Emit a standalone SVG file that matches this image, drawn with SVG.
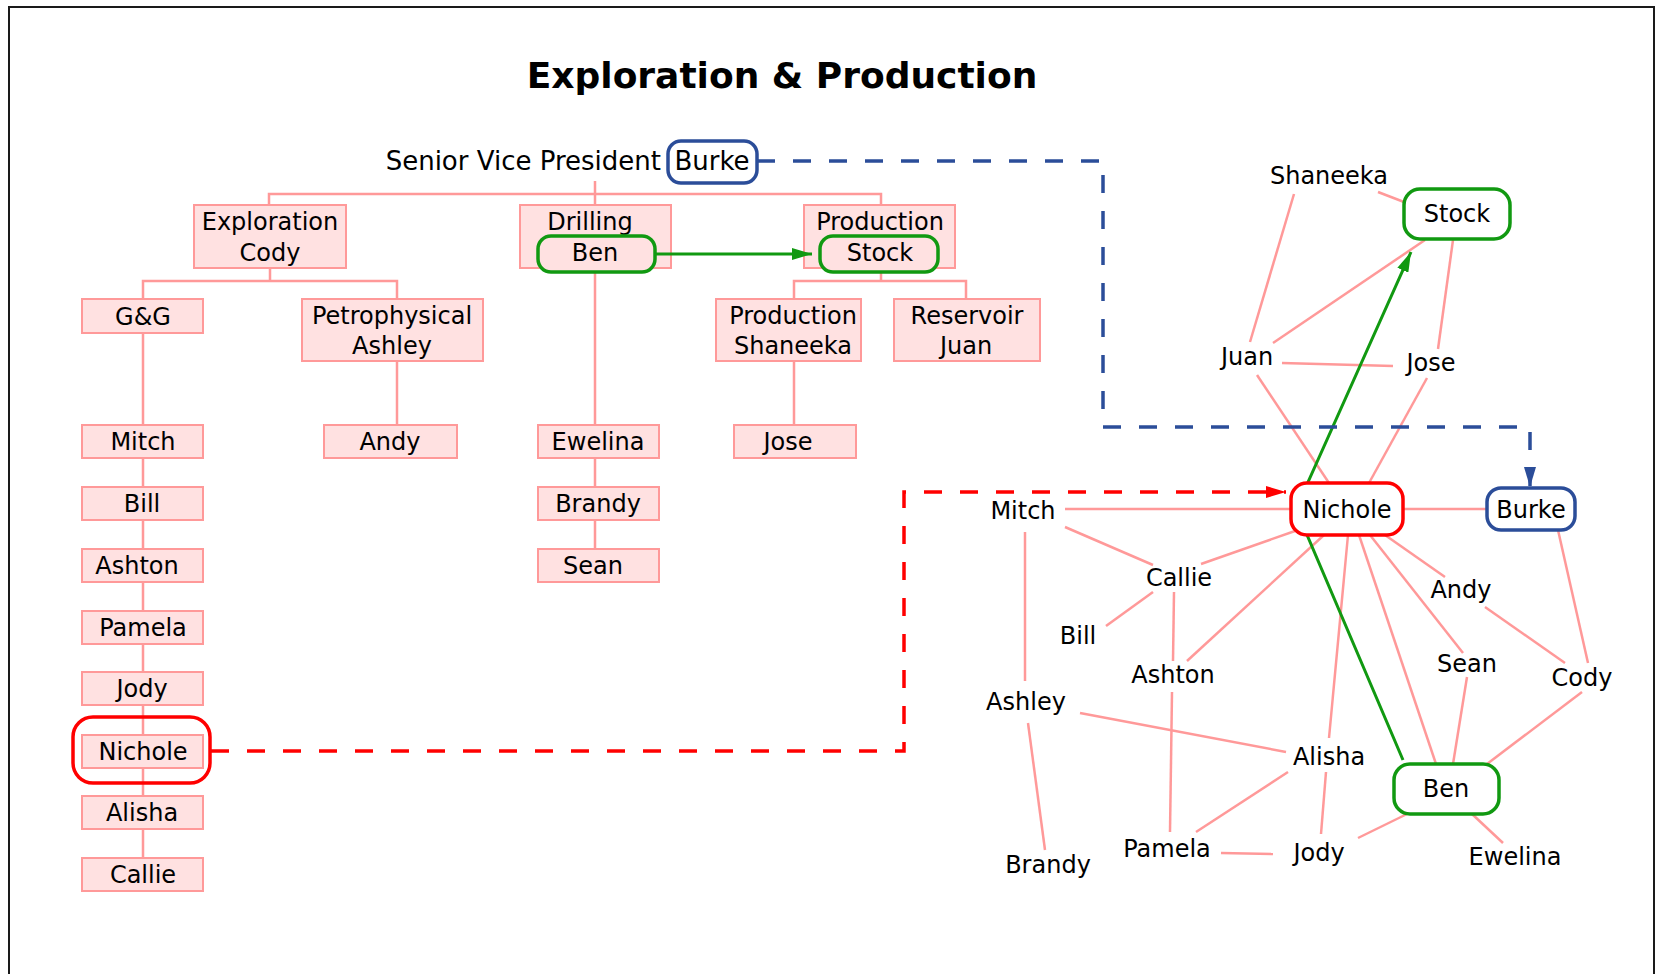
<svg xmlns="http://www.w3.org/2000/svg" width="1656" height="974" viewBox="0 0 1656 974">
  <style>
    text { font-family: "DejaVu Sans", "Liberation Sans", sans-serif; font-size: 24px; fill: #000; text-anchor: middle; }
    .title { font-size: 36px; font-weight: bold; }
    .big { font-size: 26px; }
    .box { fill: #ffe1e1; stroke: #ff9999; stroke-width: 2; }
    .tree { fill: none; stroke: #ff9999; stroke-width: 2.5; }
    .edge { stroke: #ff9999; stroke-width: 2.5; fill: none; }
    .grn { fill: #fff; stroke: #119911; stroke-width: 3.5; }
    .grn-in { fill: #ffe1e1; stroke: #119911; stroke-width: 3.5; }
    .red { fill: #fff; stroke: #ff0000; stroke-width: 3.5; }
    .red-o { fill: none; stroke: #ff0000; stroke-width: 3.5; }
    .blu { fill: #fff; stroke: #2b4d99; stroke-width: 3.5; }
  </style>
  <defs>
    <marker id="ahG" markerUnits="userSpaceOnUse" markerWidth="20" markerHeight="12" refX="20" refY="6" orient="auto">
      <path d="M0,0 L20,6 L0,12 z" fill="#119911"/>
    </marker>
    <marker id="ahR" markerUnits="userSpaceOnUse" markerWidth="20" markerHeight="12" refX="20" refY="6" orient="auto">
      <path d="M0,0 L20,6 L0,12 z" fill="#ff0000"/>
    </marker>
    <marker id="ahB" markerUnits="userSpaceOnUse" markerWidth="20" markerHeight="12" refX="20" refY="6" orient="auto">
      <path d="M0,0 L20,6 L0,12 z" fill="#2b4d99"/>
    </marker>
  </defs>

  <!-- frame -->
  <rect x="9" y="7" width="1645" height="1000" fill="#fff" stroke="#1a1a1a" stroke-width="2"/>

  <text class="title" x="782" y="88">Exploration &amp; Production</text>

  <!-- org chart tree lines -->
  <g id="tree-lines">
    <path class="tree" d="M595,181 V205 M269,205 V194 H881 V205"/>
    <path class="tree" d="M270,268 V281 M143,299 V281 H397 V299"/>
    <path class="tree" d="M143,333 V425 M143,458 V487 M143,520 V549 M143,582 V611 M143,644 V672 M143,705 V735 M143,768 V796 M143,829 V858"/>
    <path class="tree" d="M397,361 V425"/>
    <path class="tree" d="M595,272 V425 M595,458 V487 M595,520 V549"/>
    <path class="tree" d="M881,272 V281 M794,299 V281 H966 V299 M794,361 V425"/>
  </g>

  <!-- org chart nodes -->
  <g id="svp">
    <text class="big" x="661" y="170" style="text-anchor:end">Senior Vice President</text>
    <rect class="blu" x="668" y="141" width="89" height="42" rx="13"/>
    <text class="big" x="712" y="170">Burke</text>
  </g>
  <g id="org-exploration">
    <rect class="box" x="194" y="205" width="152" height="63"/>
    <text x="270" y="230">Exploration</text>
    <text x="270" y="261">Cody</text>
  </g>
  <g id="org-drilling">
    <rect class="box" x="520" y="205" width="151" height="63"/>
    <text x="590" y="230">Drilling</text>
    <rect class="grn-in" x="538" y="236" width="117" height="36" rx="13"/>
    <text x="595" y="261">Ben</text>
  </g>
  <g id="org-production">
    <rect class="box" x="804" y="205" width="151" height="63"/>
    <text x="880" y="230">Production</text>
    <rect class="grn-in" x="820" y="236" width="118" height="36" rx="13"/>
    <text x="880" y="261">Stock</text>
  </g>
  <g id="org-gg">
    <rect class="box" x="82" y="299" width="121" height="34"/>
    <text x="143" y="325">G&amp;G</text>
  </g>
  <g id="org-petro">
    <rect class="box" x="302" y="299" width="181" height="62"/>
    <text x="392" y="324">Petrophysical</text>
    <text x="392" y="354">Ashley</text>
  </g>
  <g id="org-prod-shaneeka">
    <rect class="box" x="716" y="299" width="145" height="62"/>
    <text x="793" y="324">Production</text>
    <text x="793" y="354">Shaneeka</text>
  </g>
  <g id="org-reservoir">
    <rect class="box" x="894" y="299" width="146" height="62"/>
    <text x="967" y="324">Reservoir</text>
    <text x="966" y="354">Juan</text>
  </g>
  <g id="org-mitch"><rect class="box" x="82" y="425" width="121" height="33"/><text x="143" y="450">Mitch</text></g>
  <g id="org-bill"><rect class="box" x="82" y="487" width="121" height="33"/><text x="142" y="512">Bill</text></g>
  <g id="org-ashton"><rect class="box" x="82" y="549" width="121" height="33"/><text x="137" y="574">Ashton</text></g>
  <g id="org-pamela"><rect class="box" x="82" y="611" width="121" height="33"/><text x="143" y="636">Pamela</text></g>
  <g id="org-jody"><rect class="box" x="82" y="672" width="121" height="33"/><text x="142" y="697">Jody</text></g>
  <g id="org-nichole">
    <rect class="box" x="82" y="735" width="121" height="33"/><text x="143" y="760">Nichole</text>
    <rect class="red-o" x="73" y="717" width="137" height="66" rx="20"/>
  </g>
  <g id="org-alisha"><rect class="box" x="82" y="796" width="121" height="33"/><text x="142" y="821">Alisha</text></g>
  <g id="org-callie"><rect class="box" x="82" y="858" width="121" height="33"/><text x="143" y="883">Callie</text></g>
  <g id="org-andy"><rect class="box" x="324" y="425" width="133" height="33"/><text x="390" y="450">Andy</text></g>
  <g id="org-ewelina"><rect class="box" x="538" y="425" width="121" height="33"/><text x="598" y="450">Ewelina</text></g>
  <g id="org-brandy"><rect class="box" x="538" y="487" width="121" height="33"/><text x="598" y="512">Brandy</text></g>
  <g id="org-sean"><rect class="box" x="538" y="549" width="121" height="33"/><text x="593" y="574">Sean</text></g>
  <g id="org-jose"><rect class="box" x="734" y="425" width="122" height="33"/><text x="788" y="450">Jose</text></g>

  <!-- network edges -->
  <g id="connectors">
    <line class="edge" x1="1378" y1="192" x2="1404" y2="202"/>
    <line class="edge" x1="1294" y1="194" x2="1250" y2="342"/>
    <line class="edge" x1="1425" y1="240" x2="1273" y2="343"/>
    <line class="edge" x1="1453" y1="240" x2="1438" y2="349"/>
    <line class="edge" x1="1282" y1="363" x2="1393" y2="366"/>
    <line class="edge" x1="1257" y1="375" x2="1329" y2="483"/>
    <line class="edge" x1="1427" y1="378" x2="1369" y2="483"/>
    <line class="edge" x1="1065" y1="509" x2="1291" y2="509"/>
    <line class="edge" x1="1403" y1="509" x2="1487" y2="509"/>
    <line class="edge" x1="1065" y1="527" x2="1153" y2="565"/>
    <line class="edge" x1="1201" y1="564" x2="1295" y2="531"/>
    <line class="edge" x1="1153" y1="592" x2="1106" y2="626"/>
    <line class="edge" x1="1174" y1="592" x2="1173" y2="661"/>
    <line class="edge" x1="1187" y1="661" x2="1324" y2="535"/>
    <line class="edge" x1="1025" y1="532" x2="1025" y2="681"/>
    <line class="edge" x1="1080" y1="713" x2="1286" y2="752"/>
    <line class="edge" x1="1028" y1="723" x2="1045" y2="850"/>
    <line class="edge" x1="1172" y1="692" x2="1170" y2="832"/>
    <line class="edge" x1="1288" y1="772" x2="1196" y2="832"/>
    <line class="edge" x1="1326" y1="772" x2="1321" y2="834"/>
    <line class="edge" x1="1221" y1="853" x2="1273" y2="854"/>
    <line class="edge" x1="1358" y1="838" x2="1407" y2="814"/>
    <line class="edge" x1="1472" y1="814" x2="1503" y2="843"/>
    <line class="edge" x1="1348" y1="535" x2="1329" y2="738"/>
    <line class="edge" x1="1359" y1="535" x2="1436" y2="764"/>
    <line class="edge" x1="1370" y1="535" x2="1463" y2="653"/>
    <line class="edge" x1="1385" y1="535" x2="1445" y2="577"/>
    <line class="edge" x1="1467" y1="677" x2="1453" y2="764"/>
    <line class="edge" x1="1485" y1="607" x2="1565" y2="663"/>
    <line class="edge" x1="1558" y1="530" x2="1588" y2="663"/>
    <line class="edge" x1="1582" y1="692" x2="1487" y2="764"/>
    <!-- highlighted hand-offs -->
    <line x1="655" y1="254" x2="812" y2="254" stroke="#119911" stroke-width="3" marker-end="url(#ahG)"/>
    <polyline points="1403,760 1296,509 1411,252" fill="none" stroke="#119911" stroke-width="3" marker-end="url(#ahG)"/>
    <polyline points="211,751 904,751 904,492 1286,492" fill="none" stroke="#ff0000" stroke-width="3.5" stroke-dasharray="18,18" marker-end="url(#ahR)"/>
    <polyline points="757,161 1103,161 1103,427 1530,427 1530,487" fill="none" stroke="#2b4d99" stroke-width="3.5" stroke-dasharray="18,18" marker-end="url(#ahB)"/>
  </g>

  <!-- network nodes -->
  <g id="n-stock"><rect class="grn" x="1404" y="189" width="106" height="50" rx="16"/><text x="1457" y="222">Stock</text></g>
  <g id="n-nichole"><rect class="red" x="1291" y="483" width="112" height="52" rx="16"/><text x="1347" y="518">Nichole</text></g>
  <g id="n-burke"><rect class="blu" x="1487" y="488" width="88" height="42" rx="14"/><text x="1531" y="518">Burke</text></g>
  <g id="n-ben"><rect class="grn" x="1394" y="764" width="105" height="50" rx="16"/><text x="1446" y="797">Ben</text></g>
  <g id="n-shaneeka"><text x="1329" y="184">Shaneeka</text></g>
  <g id="n-juan"><text x="1247" y="365">Juan</text></g>
  <g id="n-jose"><text x="1431" y="371">Jose</text></g>
  <g id="n-mitch"><text x="1023" y="519">Mitch</text></g>
  <g id="n-callie"><text x="1179" y="586">Callie</text></g>
  <g id="n-bill"><text x="1078" y="644">Bill</text></g>
  <g id="n-ashton"><text x="1173" y="683">Ashton</text></g>
  <g id="n-ashley"><text x="1026" y="710">Ashley</text></g>
  <g id="n-andy"><text x="1461" y="598">Andy</text></g>
  <g id="n-sean"><text x="1467" y="672">Sean</text></g>
  <g id="n-cody"><text x="1582" y="686">Cody</text></g>
  <g id="n-alisha"><text x="1329" y="765">Alisha</text></g>
  <g id="n-pamela"><text x="1167" y="857">Pamela</text></g>
  <g id="n-jody"><text x="1319" y="861">Jody</text></g>
  <g id="n-brandy"><text x="1048" y="873">Brandy</text></g>
  <g id="n-ewelina"><text x="1515" y="865">Ewelina</text></g>
</svg>
